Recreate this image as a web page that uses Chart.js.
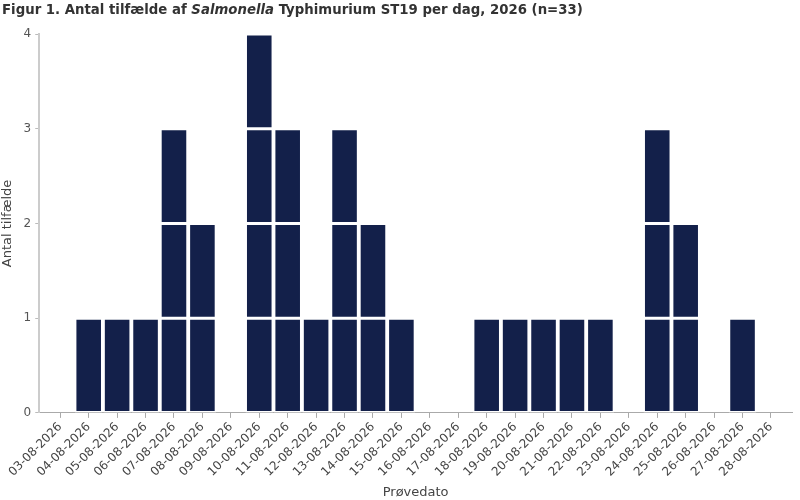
<!DOCTYPE html>
<html>
<head>
<meta charset="utf-8">
<script src="https://cdn.jsdelivr.net/npm/chart.js@4.4.1/dist/chart.umd.min.js"></script>
<style>
  html, body { margin: 0; padding: 0; background: #fff; }
  #wrap { position: relative; width: 800px; height: 500px; }
  #title {
    position: absolute; left: 2px; top: 2px;
    font-family: "DejaVu Sans", sans-serif; font-weight: bold; font-size: 13.3px;
    color: #333; white-space: nowrap;
  }
</style>
</head>
<body>
<div id="wrap">
  <canvas id="caseChart" width="800" height="500"></canvas>
  <div id="title">Figur 1. Antal tilfælde af <i>Salmonella</i> Typhimurium ST19 per dag, 2026 (n=33)</div>
</div>
<script>
const dates = ['03-08-2026', '04-08-2026', '05-08-2026', '06-08-2026', '07-08-2026', '08-08-2026',
    '09-08-2026', '10-08-2026', '11-08-2026', '12-08-2026', '13-08-2026', '14-08-2026',
    '15-08-2026', '16-08-2026', '17-08-2026', '18-08-2026', '19-08-2026', '20-08-2026',
    '21-08-2026', '22-08-2026', '23-08-2026', '24-08-2026', '25-08-2026', '26-08-2026',
    '27-08-2026', '28-08-2026'];
const counts = [0, 1, 1, 1, 3, 2, 0, 4, 3, 1, 3, 2, 1, 0, 0, 1, 1, 1, 1, 1, 0, 3, 2, 0, 1, 0];
const yTicks = [0, 1, 2, 3, 4];

// one dataset per case level, so every case is its own block
const levels = [1, 2, 3, 4];
const datasets = levels.map(level => ({
    label: 'Tilfælde ' + level,
    data: counts.map((c, i) => ({ x: i, y: c >= level ? 1 : null })),
    backgroundColor: '#13204a',
    borderColor: '#ffffff',
    borderWidth: 1.5,
    borderSkipped: false,
    categoryPercentage: 1,
    barPercentage: 0.97
}));

const font = "'DejaVu Sans', sans-serif";

new Chart(document.getElementById('caseChart').getContext('2d'), {
    type: 'bar',
    data: { datasets: datasets },
    options: {
        responsive: false,
        animation: false,
        layout: { padding: { top: 34, right: 8, left: 0, bottom: 0 } },
        plugins: {
            legend: { display: false },
            tooltip: { enabled: false }
        },
        scales: {
            x: {
                type: 'linear',
                stacked: true,
                offset: false,
                min: -0.74,
                max: dates.length - 0.26,
                afterBuildTicks: scale => {
                    scale.ticks = dates.map((d, i) => ({ value: i }));
                },
                grid: { display: true, offset: false, drawOnChartArea: false, tickLength: 5, color: '#aaaaaa' },
                border: { color: '#aaaaaa', width: 1 },
                ticks: {
                    autoSkip: false,
                    maxRotation: 45,
                    minRotation: 45,
                    padding: 2,
                    color: '#444',
                    font: { family: font, size: 12 },
                    callback: value => dates[value]
                },
                title: {
                    display: true,
                    text: 'Prøvedato',
                    color: '#444',
                    font: { family: font, size: 13 },
                    padding: { top: 3, bottom: 0 }
                }
            },
            y: {
                stacked: true,
                min: yTicks[0],
                max: yTicks[yTicks.length - 1],
                afterBuildTicks: scale => {
                    scale.ticks = yTicks.map(v => ({ value: v }));
                },
                grid: { display: true, drawOnChartArea: false, tickLength: 4, color: '#bbbbbb' },
                border: { color: '#cccccc', width: 2 },
                ticks: {
                    color: '#555',
                    font: { family: font, size: 12 },
                    padding: 4
                },
                title: {
                    display: true,
                    text: 'Antal tilfælde',
                    color: '#444',
                    font: { family: font, size: 13 },
                    padding: { top: 0, bottom: 4 }
                }
            }
        }
    }
});
</script>
</body>
</html>
